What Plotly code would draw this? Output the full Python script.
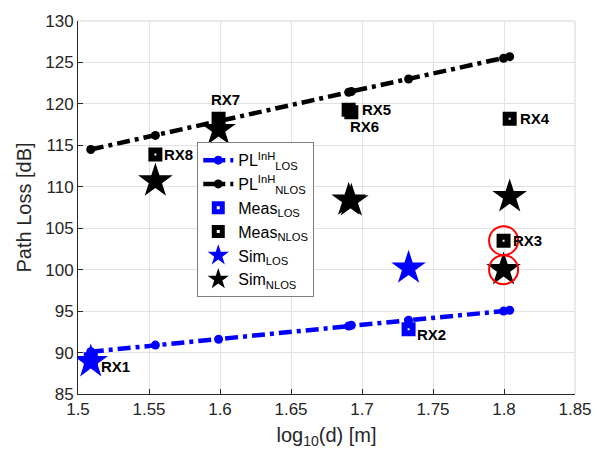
import plotly.graph_objects as go

# log10 of TX-RX distance for each receiver
rx_names = ["RX1", "RX8", "RX7", "RX5", "RX6", "RX2", "RX3", "RX4"]
log_d = [1.509, 1.5545, 1.599, 1.6906, 1.6925, 1.7328, 1.7997, 1.804]

# InH path-loss model evaluated at every receiver distance
pl_los = [90.1, 90.9, 91.6, 93.2, 93.3, 93.9, 95.0, 95.1]
pl_nlos = [114.5, 116.2, 117.9, 121.4, 121.5, 123.0, 125.5, 125.7]

# measured path loss
meas_los_rx = ["RX1", "RX2"]
meas_los = [89.2, 92.8]
meas_nlos_rx = ["RX8", "RX7", "RX5", "RX6", "RX3", "RX4"]
meas_nlos = [113.9, 118.2, 119.3, 119.0, 103.5, 118.2]

# simulated path loss
sim_los_rx = ["RX1", "RX2"]
sim_los = [88.9, 100.2]
sim_nlos_rx = ["RX8", "RX7", "RX5", "RX6", "RX3", "RX4"]
sim_nlos = [110.7, 116.9, 108.4, 108.3, 100.0, 108.8]

# receiver whose measured and simulated values are highlighted
highlight_rx = "RX3"

# receiver labels: value they sit next to, anchor, offset in pixels
label_src = {"RX1": ("sim_los", "left", 9, -5),
             "RX2": ("meas_los", "left", 7, -5),
             "RX3": ("meas_nlos", "left", 8, 0),
             "RX4": ("meas_nlos", "left", 9, 0),
             "RX5": ("meas_nlos", "left", 12, 0),
             "RX6": ("meas_nlos", "center", 13, -14),
             "RX7": ("meas_nlos", "center", 7, 19),
             "RX8": ("meas_nlos", "left", 8, 0)}

pos = dict(zip(rx_names, log_d))
series = {
    "meas_los": dict(zip(meas_los_rx, meas_los)),
    "meas_nlos": dict(zip(meas_nlos_rx, meas_nlos)),
    "sim_los": dict(zip(sim_los_rx, sim_los)),
    "sim_nlos": dict(zip(sim_nlos_rx, sim_nlos)),
}

BLUE = "#0000ff"
BLACK = "#000000"
AXIS = "#262626"
GRID = "#e3e3e3"
FONT = "Arial, Liberation Sans, Helvetica, sans-serif"
DASH = "13px,5px,4px,5px"

fig = go.Figure()

fig.add_trace(go.Scatter(
    x=log_d, y=pl_los, mode="lines+markers",
    name="PL<sup>InH</sup><sub>LOS</sub>",
    line=dict(color=BLUE, width=4.5, dash=DASH),
    marker=dict(symbol="circle", size=9, color=BLUE),
))
fig.add_trace(go.Scatter(
    x=log_d, y=pl_nlos, mode="lines+markers",
    name="PL<sup>InH</sup><sub>NLOS</sub>",
    line=dict(color=BLACK, width=4.5, dash=DASH),
    marker=dict(symbol="circle", size=9, color=BLACK),
))
fig.add_trace(go.Scatter(
    x=[pos[r] for r in meas_los_rx], y=meas_los, mode="markers",
    name="Meas<sub>LOS</sub>",
    marker=dict(symbol="square-open", size=8, color=BLUE,
                line=dict(color=BLUE, width=6)),
))
fig.add_trace(go.Scatter(
    x=[pos[r] for r in meas_nlos_rx], y=meas_nlos, mode="markers",
    name="Meas<sub>NLOS</sub>",
    marker=dict(symbol="square-open", size=8, color=BLACK,
                line=dict(color=BLACK, width=6)),
))
fig.add_trace(go.Scatter(
    x=[pos[r] for r in sim_los_rx], y=sim_los, mode="markers",
    name="Sim<sub>LOS</sub>",
    marker=dict(symbol="star", size=26, color=BLUE, line=dict(width=0)),
))
fig.add_trace(go.Scatter(
    x=[pos[r] for r in sim_nlos_rx], y=sim_nlos, mode="markers",
    name="Sim<sub>NLOS</sub>",
    marker=dict(symbol="star", size=26, color=BLACK, line=dict(width=0)),
))
fig.add_trace(go.Scatter(
    x=[pos[highlight_rx], pos[highlight_rx]],
    y=[series["meas_nlos"][highlight_rx], series["sim_nlos"][highlight_rx]],
    mode="markers", showlegend=False, hoverinfo="skip",
    marker=dict(symbol="circle-open", size=29, color="#ff0000",
                line=dict(color="#ff0000", width=2)),
))

for rx, (src, anchor, dx, dy) in label_src.items():
    fig.add_annotation(
        x=pos[rx], y=series[src][rx], text="<b>%s</b>" % rx,
        showarrow=False, xanchor=anchor, xshift=dx, yshift=dy,
        borderpad=0,
        font=dict(family=FONT, size=15, color=BLACK),
    )

# light frame on the top and right edges of the plot area
fig.add_shape(type="line", xref="paper", yref="paper", x0=0, x1=1, y0=1, y1=1,
              line=dict(color=GRID, width=1.5))
fig.add_shape(type="line", xref="paper", yref="paper", x0=1, x1=1, y0=0, y1=1,
              line=dict(color=GRID, width=1.5))

fig.update_layout(
    width=612, height=457,
    margin=dict(l=78, r=37, t=14, b=63),
    paper_bgcolor="white", plot_bgcolor="white",
    font=dict(family=FONT, size=17, color=AXIS),
    showlegend=True,
    legend=dict(
        x=0.24, y=0.675, xanchor="left", yanchor="top",
        bgcolor="white", bordercolor="#7f7f7f", borderwidth=1,
        font=dict(family=FONT, size=16, color=BLACK),
        tracegroupgap=0, itemwidth=30,
    ),
    xaxis=dict(
        range=[1.5, 1.85], tick0=1.5, dtick=0.05,
        showgrid=True, gridcolor=GRID, gridwidth=1,
        showline=True, linecolor=AXIS, linewidth=1,
        ticks="inside", ticklen=5, tickcolor=AXIS,
        zeroline=False,
        title=dict(text="log<sub>10</sub>(d) [m]", standoff=9,
                   font=dict(family=FONT, size=20, color=AXIS)),
        tickfont=dict(family=FONT, size=17, color=AXIS),
    ),
    yaxis=dict(
        range=[85, 130], tick0=85, dtick=5,
        showgrid=True, gridcolor=GRID, gridwidth=1,
        showline=True, linecolor=AXIS, linewidth=1,
        ticks="inside", ticklen=5, tickcolor=AXIS,
        zeroline=False,
        title=dict(text="Path Loss [dB]", standoff=8,
                   font=dict(family=FONT, size=20, color=AXIS)),
        tickfont=dict(family=FONT, size=17, color=AXIS),
    ),
)

fig.write_html("out.html")
